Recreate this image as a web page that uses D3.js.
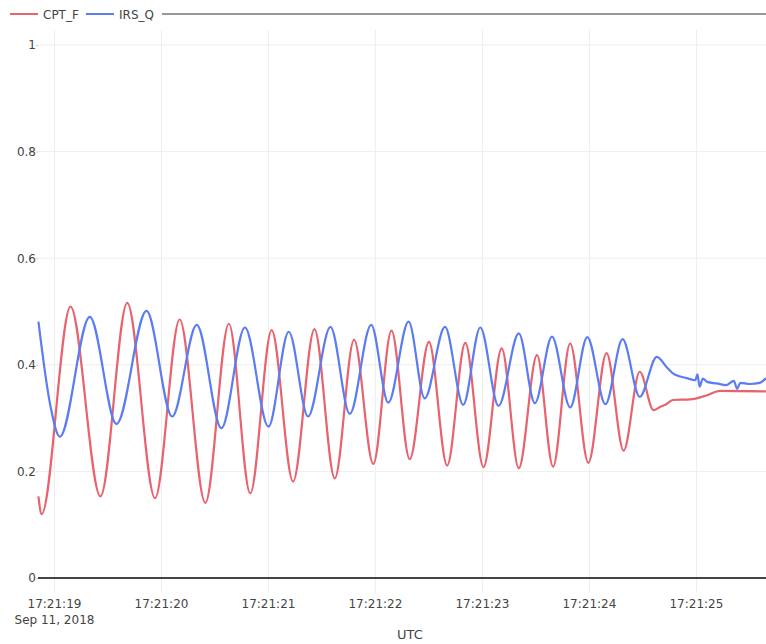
<!DOCTYPE html>
<html>
<head>
<meta charset="utf-8">
<script src="https://cdn.jsdelivr.net/npm/d3@7"></script>
<style>
    body { margin: 0; background: #fff; }
    text { font-family: "DejaVu Sans", Verdana, sans-serif; fill: #444; }
</style>
</head>
<body>
<script>
// #Data: seconds after 17:21:00 UTC, Sep 11, 2018
const cptTime = [18.85, 18.88, 19.15, 19.43, 19.68, 19.94, 20.17, 20.41, 20.63, 20.83,
                 21.03, 21.23, 21.43, 21.62, 21.80, 21.98, 22.15, 22.32, 22.50, 22.67,
                 22.84, 23.01, 23.18, 23.34, 23.51, 23.66, 23.82, 23.99, 24.16, 24.32,
                 24.47, 24.60, 24.66, 24.71, 24.78, 24.94, 25.10, 25.22, 25.65];
const cptValue = [0.153, 0.120, 0.509, 0.153, 0.516, 0.150, 0.485, 0.141, 0.477, 0.159,
                  0.465, 0.181, 0.467, 0.187, 0.447, 0.214, 0.464, 0.223, 0.443, 0.211,
                  0.441, 0.208, 0.431, 0.206, 0.418, 0.209, 0.440, 0.216, 0.422, 0.239,
                  0.387, 0.315, 0.321, 0.325, 0.334, 0.335, 0.343, 0.351, 0.350];

const irsTime = [18.85, 18.96, 19.05, 19.33, 19.58, 19.86, 20.10, 20.33, 20.56, 20.78,
                 21.00, 21.19, 21.37, 21.58, 21.76, 21.96, 22.12, 22.31, 22.46, 22.65,
                 22.82, 22.98, 23.15, 23.34, 23.49, 23.65, 23.82, 23.98, 24.15, 24.31,
                 24.47, 24.63, 24.72, 24.78, 24.91, 24.99, 25.01, 25.03, 25.06, 25.10,
                 25.19, 25.28, 25.35, 25.38, 25.41, 25.50, 25.59, 25.65];
const irsValue = [0.481, 0.325, 0.265, 0.490, 0.289, 0.501, 0.303, 0.475, 0.281, 0.470,
                  0.284, 0.462, 0.303, 0.471, 0.308, 0.475, 0.329, 0.481, 0.337, 0.471,
                  0.325, 0.470, 0.323, 0.459, 0.328, 0.453, 0.320, 0.452, 0.326, 0.448,
                  0.340, 0.415, 0.396, 0.384, 0.375, 0.371, 0.382, 0.359, 0.374, 0.368,
                  0.365, 0.362, 0.370, 0.355, 0.366, 0.364, 0.366, 0.375];

const yTicks = [0, 0.2, 0.4, 0.6, 0.8, 1];
const seriesNames = ['CPT_F', 'IRS_Q'];
const seriesColors = ['#e8636d', '#5b7cf2'];

// #Define SVG
const width = 766, height = 644;
const margin = {left: 38, right: 782, top: 30, zero: 578, one: 45};

const svg = d3.select('body')
              .append('svg')
              .attr('width', width)
              .attr('height', height);

const toDate = s => new Date(Date.UTC(2018, 8, 11, 17, 21, 0) + s * 1000);

const series = [
    cptTime.map((t, i) => ({date: toDate(t), value: cptValue[i]})),
    irsTime.map((t, i) => ({date: toDate(t), value: irsValue[i]}))
];

// #Scales
const xScale = d3.scaleUtc()
                 .domain([toDate(18.846), toDate(25.8)])
                 .range([margin.left, margin.right]);

const yScale = d3.scaleLinear()
                 .domain([0, 1])
                 .range([margin.zero, margin.one]);

const xTicks = d3.utcSecond.range(toDate(19), toDate(26));

// #Grid
svg.append('g')
   .selectAll('line')
   .data(xTicks)
   .enter()
   .append('line')
   .attr('x1', d => xScale(d))
   .attr('x2', d => xScale(d))
   .attr('y1', margin.top)
   .attr('y2', margin.zero + 15)
   .attr('stroke', '#eee')
   .attr('stroke-width', 1);

svg.append('g')
   .selectAll('line')
   .data(yTicks.slice(1))
   .enter()
   .append('line')
   .attr('x1', margin.left)
   .attr('x2', width)
   .attr('y1', d => yScale(d))
   .attr('y2', d => yScale(d))
   .attr('stroke', '#eee')
   .attr('stroke-width', 1);

// #Y axis labels
const yAxis = d3.axisLeft(yScale)
                .tickValues(yTicks)
                .tickFormat(d3.format('~g'))
                .tickSize(2)
                .tickPadding(0);

svg.append('g')
   .attr('transform', 'translate(' + margin.left + ',0)')
   .call(yAxis)
   .call(g => g.select('.domain').remove())
   .call(g => g.selectAll('line').attr('stroke', '#ccc'))
   .call(g => g.selectAll('text').attr('font-size', 12).attr('fill', '#444').attr('font-family', null));

// #Zero line
svg.append('line')
   .attr('x1', margin.left)
   .attr('x2', width)
   .attr('y1', yScale(0))
   .attr('y2', yScale(0))
   .attr('stroke', '#444')
   .attr('stroke-width', 2);

// #X axis labels
const timeFormat = d3.utcFormat('%H:%M:%S');
const dayFormat = d3.utcFormat('%b %d, %Y');

svg.append('g')
   .selectAll('text')
   .data(xTicks)
   .enter()
   .append('text')
   .attr('x', d => xScale(d))
   .attr('y', 608)
   .attr('text-anchor', 'middle')
   .attr('font-size', 12)
   .text(d => timeFormat(d));

svg.append('text')
   .attr('x', xScale(xTicks[0]))
   .attr('y', 624)
   .attr('text-anchor', 'middle')
   .attr('font-size', 12)
   .text(dayFormat(xTicks[0]));

svg.append('text')
   .attr('x', (margin.left + margin.right) / 2)
   .attr('y', 639)
   .attr('text-anchor', 'middle')
   .attr('font-size', 13)
   .text('UTC');

// #Lines
const line = d3.line()
               .x(d => xScale(d.date))
               .y(d => yScale(d.value))
               .curve(d3.curveMonotoneX);

svg.append('g')
   .selectAll('path')
   .data(series)
   .enter()
   .append('path')
   .attr('d', line)
   .attr('fill', 'none')
   .attr('stroke', (d, i) => seriesColors[i])
   .attr('stroke-width', 2.2);

// #Legend
const legendX = [10, 86];
const legend = svg.append('g')
                  .selectAll('g')
                  .data(seriesNames)
                  .enter()
                  .append('g')
                  .attr('transform', (d, i) => 'translate(' + legendX[i] + ',14)');

legend.append('line')
      .attr('x1', 0)
      .attr('x2', 28)
      .attr('stroke', (d, i) => seriesColors[i])
      .attr('stroke-width', 2);

legend.append('text')
      .attr('x', 33)
      .attr('y', 4.5)
      .attr('font-size', 12)
      .text(d => d);

svg.append('line')
   .attr('x1', 162)
   .attr('x2', width)
   .attr('y1', 14)
   .attr('y2', 14)
   .attr('stroke', '#333')
   .attr('stroke-width', 1);
</script>
</body>
</html>
